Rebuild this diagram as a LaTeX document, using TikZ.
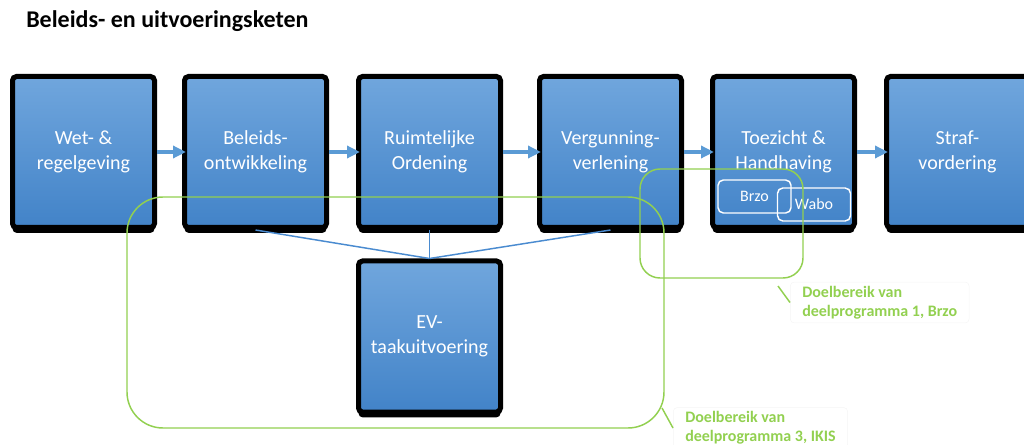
\documentclass[tikz,border=0pt]{standalone}
\usepackage{fontspec}
\setmainfont{Carlito}
\usetikzlibrary{arrows.meta,shadows}
\definecolor{boxtop}{RGB}{112,166,221}
\definecolor{boxbot}{RGB}{66,131,200}
\definecolor{flow}{RGB}{91,155,213}
\definecolor{verbind}{RGB}{74,139,208}
\definecolor{doelgreen}{RGB}{146,208,80}
\tikzset{
  stap/.style={draw=black, line width=3.75pt, rounded corners=3pt,
    top color=boxtop, bottom color=boxbot,
    minimum width=106.5pt, minimum height=113.25pt,
    text=white, align=center, font=\fontsize{15}{18.75}\selectfont,
    drop shadow={fill=black, opacity=1, shadow xshift=0pt, shadow yshift=-4pt}},
  pijl/.style={flow, line width=3.4pt, shorten >=-3pt,
    -{Triangle[length=9.75pt, width=9pt]}},
  lijn/.style={verbind, line width=1.1pt},
  doel/.style={doelgreen, line width=1.1pt},
  kader/.style={draw=white, line width=1.1pt, rounded corners=4pt,
    minimum width=54.75pt, minimum height=24.75pt,
    text=white, font=\fontsize{12}{14}\selectfont},
  doeltekst/.style={draw=black!4, rounded corners=3pt, inner xsep=9pt,
    inner ysep=3pt, text=doelgreen, align=left,
    font=\bfseries\fontsize{12}{14.25}\selectfont},
  titel/.style={font=\bfseries\fontsize{18}{21}\selectfont, inner sep=0pt}
}
\begin{document}
\begin{tikzpicture}[x=0.75pt, y=-0.75pt]
\useasboundingbox (0,0) rectangle (1024,445);
\clip (0,0) rectangle (1024,445);
% titel
\node[titel, anchor=base west] (titel) at (26,28) {Beleids- en uitvoeringsketen};
% keten
\node[stap] (wet) at (83.5,152) {Wet- \&\\regelgeving};
\node[stap] (beleid) at (255.5,152) {Beleids-\\ontwikkeling};
\node[stap] (ro) at (429.5,152) {Ruimtelijke\\Ordening};
\node[stap] (vv) at (610.5,152) {Vergunning-\\verlening};
\node[stap] (th) at (783.5,152) {Toezicht \&\\Handhaving};
\node[stap] (straf) at (957.5,152) {Straf-\\vordering};
\node[stap] (ev) at (429.5,336.5) {EV-\\taakuitvoering};
\foreach \a/\b in {wet/beleid, beleid/ro, ro/vv, vv/th, th/straf}
  \draw[pijl] (\a) -- (\b);
\foreach \a in {beleid, ro, vv}
  \draw[lijn] (\a.south) -- (ev.north);
% Brzo en Wabo
\node[kader] (brzo) at (754.5,196.5) {Brzo};
\node[kader] (wabo) at (814,204.5) {Wabo};
% doelbereik
\draw[doel, rounded corners=27pt] (127,197) rectangle (664,428);
\draw[doel, rounded corners=15pt] (640,169) rectangle (803,278);
\node[doeltekst, anchor=west] (doel1) at (790,302.5) {Doelbereik van\\deelprogramma 1, Brzo};
\node[doeltekst, anchor=west] (doel3) at (673,428) {Doelbereik van\\deelprogramma 3, IKIS};
\coordinate (hoek1) at (778,286);
\coordinate (hoek3) at (662,408);
\draw[doel] (hoek1) -- (doel1.west);
\draw[doel] (hoek3) -- (doel3.west);
\end{tikzpicture}
\end{document}
